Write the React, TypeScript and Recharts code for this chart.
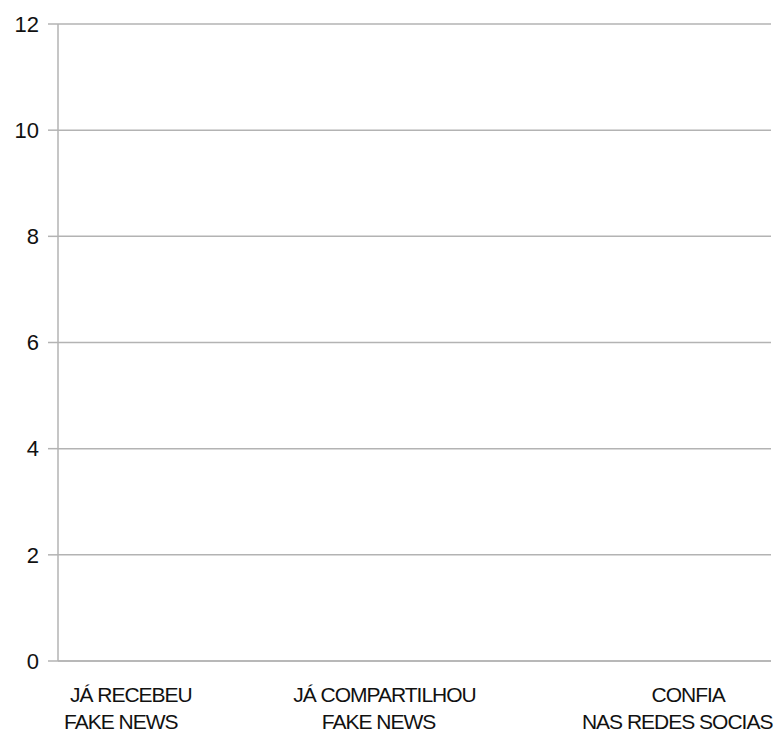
import { Bar, BarChart, CartesianGrid, XAxis, YAxis } from 'recharts';

const categories = ['JÁ RECEBEU FAKE NEWS', 'JÁ COMPARTILHOU FAKE NEWS', 'CONFIA NAS REDES SOCIAS'];
const labelLines = [
  ['JÁ RECEBEU', 'FAKE NEWS'],
  ['JÁ COMPARTILHOU', 'FAKE NEWS'],
  ['CONFIA', 'NAS REDES SOCIAS'],
];
const values = [0, 0, 0];
const yTicks = [0, 2, 4, 6, 8, 10, 12];

const data = categories.map((name, i) => ({ name, value: values[i] }));

// LibreOffice-style label placement: each line is nudged off the band centre
const lineShift = [
  [-46, -56],
  [-30, -36],
  [36, 25],
];

function CategoryTick(props: any) {
  const { x, y, index } = props;
  const lines = labelLines[index] ?? [];
  return (
    <g>
      {lines.map((line, j) => (
        <text
          key={j}
          x={x + lineShift[index][j]}
          y={y + 33 + j * 27}
          textAnchor="middle"
          fill="#111"
          fontSize={21}
          letterSpacing={-1}
          fontFamily="Liberation Sans, Arial, sans-serif"
        >
          {line}
        </text>
      ))}
    </g>
  );
}

export default function App() {
  return (
    <div style={{ position: 'absolute', left: 0, top: 0, background: '#fff' }}>
      <BarChart width={780} height={732} data={data} margin={{ top: 24, right: 9, bottom: 0, left: 0 }} barCategoryGap="30%">
        <CartesianGrid yAxisId="left" vertical={false} stroke="#b3b3b3" strokeWidth={1.5} />
        <XAxis
          dataKey="name"
          axisLine={{ stroke: '#b3b3b3', strokeWidth: 1.5 }}
          tickLine={false}
          tick={<CategoryTick />}
          height={71}
          interval={0}
        />
        <YAxis
          yAxisId="left"
          domain={[0, 12]}
          ticks={yTicks}
          width={58}
          axisLine={{ stroke: '#b3b3b3', strokeWidth: 1.5 }}
          tickLine={{ stroke: '#b3b3b3', strokeWidth: 1.5 }}
          tickSize={10}
          tickMargin={9}
          tick={{ fill: '#111', fontSize: 22, fontFamily: 'Liberation Sans, Arial, sans-serif' }}
        />
        <YAxis
          yAxisId="right"
          orientation="right"
          domain={[0, 12]}
          width={0}
          tick={false}
          tickLine={false}
          axisLine={{ stroke: '#b3b3b3', strokeWidth: 1.5 }}
        />
        <Bar yAxisId="left" dataKey="value" fill="#004586" isAnimationActive={false} />
      </BarChart>
    </div>
  );
}
